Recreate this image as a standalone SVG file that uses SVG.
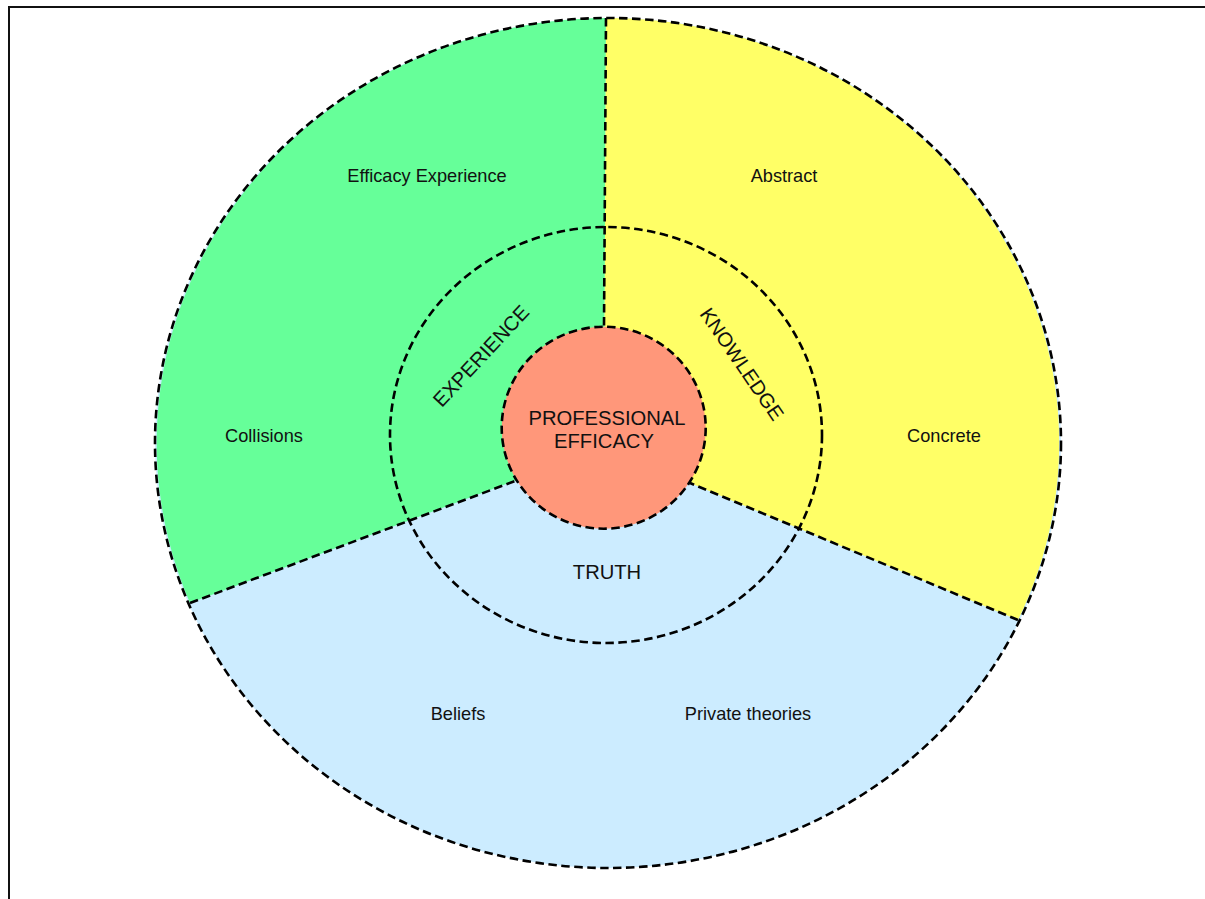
<svg xmlns="http://www.w3.org/2000/svg" width="1205" height="899" viewBox="0 0 1205 899">
<style>
.dash{fill:none;stroke:#000;stroke-width:2.6;stroke-dasharray:8.5 4.5}
.lbl{font-family:"Liberation Sans",Arial,sans-serif;font-size:18.2px;fill:#111;text-anchor:middle}
.cap{font-family:"Liberation Sans",Arial,sans-serif;font-size:20.2px;fill:#111;text-anchor:middle}
</style>
<rect x="0" y="0" width="1205" height="899" fill="#fff"/>
<rect x="9" y="7" width="1205" height="905" fill="none" stroke="#111" stroke-width="2"/>
<g id="truth-sector">
<ellipse cx="608" cy="443" rx="453" ry="425" fill="#CCECFF"/>
</g>
<g id="experience-sector">
<path d="M606,18 A453,425 0 0 0 190,603 L604,447 Z" fill="#66FF99"/>
</g>
<g id="knowledge-sector">
<path d="M606,18 A453,425 0 0 1 1018,620 L604,447 Z" fill="#FFFF66"/>
</g>
<g id="connectors">
<ellipse class="dash" cx="608" cy="443" rx="453" ry="425"/>
<line class="dash" x1="606" y1="18" x2="604" y2="327"/>
<line class="dash" x1="190" y1="603" x2="515" y2="481"/>
<line class="dash" x1="1018" y1="620" x2="690" y2="483"/>
<ellipse class="dash" cx="606" cy="435" rx="216" ry="208"/>
</g>
<g id="core">
<ellipse cx="603.7" cy="427.7" rx="102" ry="101" fill="#FF977A" stroke="#000" stroke-width="2.6" stroke-dasharray="8.5 4.5"/>
<text class="cap" x="607" y="425">PROFESSIONAL</text>
<text class="cap" x="604" y="448">EFFICACY</text>
</g>
<g id="labels">
<text class="lbl" x="427" y="182">Efficacy Experience</text>
<text class="lbl" x="784" y="182">Abstract</text>
<text class="lbl" x="264" y="442">Collisions</text>
<text class="lbl" x="944" y="442">Concrete</text>
<text class="lbl" x="458" y="720">Beliefs</text>
<text class="lbl" x="748" y="720">Private theories</text>
<text class="cap" x="607" y="579">TRUTH</text>
<text class="cap" transform="translate(481,356) rotate(-47)" x="0" y="7">EXPERIENCE</text>
<text class="cap" transform="translate(742,364) rotate(55.5)" x="0" y="7">KNOWLEDGE</text>
</g>
</svg>
